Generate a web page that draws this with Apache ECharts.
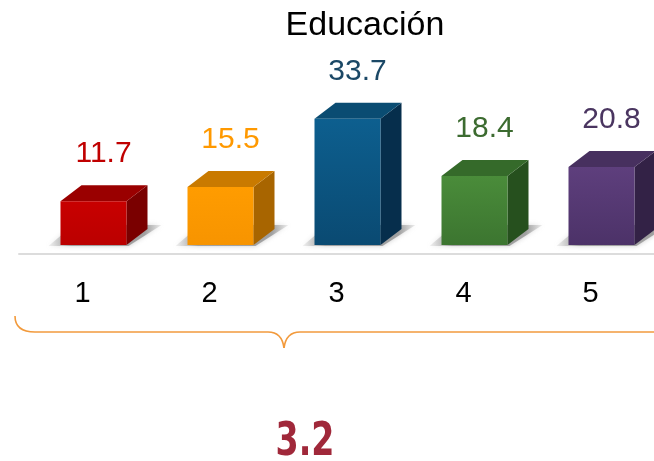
<!DOCTYPE html>
<html>
<head>
<meta charset="utf-8">
<script src="https://cdn.jsdelivr.net/npm/echarts@6/dist/echarts.min.js"></script>
<style>
  html, body { margin: 0; padding: 0; background: #fff; }
  #chart { width: 654px; height: 461px; }
</style>
</head>
<body>
<div id="chart"></div>
<script>
// datos
var titulo = 'Educación';
var categorias = ['1', '2', '3', '4', '5'];
var valores = [11.7, 15.5, 33.7, 18.4, 20.8];
var promedio = '3.2';

// colores de cada barra: frente, tapa, lado, etiqueta
var colores = [
  { frente: ['#c80000', '#bb0000'], tapa: '#9a0000', lado: '#7a0000', texto: '#c00000' },
  { frente: ['#ff9c00', '#f79400'], tapa: '#c97a00', lado: '#a86500', texto: '#ff9900' },
  { frente: ['#0d5f8f', '#0a4a72'], tapa: '#0a4c72', lado: '#062e4c', texto: '#1b4866' },
  { frente: ['#4a8c3a', '#3c7530'], tapa: '#356a2a', lado: '#26501e', texto: '#3c6b30' },
  { frente: ['#5e3f7d', '#4c3268'], tapa: '#47305f', lado: '#332246', texto: '#4a3560' }
];

function grad(x2, y2, stops) {
  return { type: 'linear', x: 0, y: 0, x2: x2, y2: y2, colorStops: stops };
}

var myChart = echarts.init(document.getElementById('chart'));

function renderItem(params, api) {
  var i = params.dataIndex;
  var base = api.coord([api.value(0), 0]);
  var tope = api.coord([api.value(0), api.value(1)]);
  var w = 66, dx = 21, dy = 16, shift = 11;
  var cx = base[0] + shift;
  var x0 = cx - w / 2, x1 = cx + w / 2;
  var yb = base[1], yt = tope[1];
  var c = colores[i];
  return {
    type: 'group',
    children: [
      {
        type: 'polygon',
        shape: { points: [[x0 - 12, yb + 1], [x1 + 2, yb + 1], [x1 + dx + 14, yb - dy - 4], [x0 + dx - 8, yb - dy - 4]] },
        style: {
          fill: grad(1, 0, [
            { offset: 0, color: 'rgba(170,170,170,0.15)' },
            { offset: 0.2, color: 'rgba(140,140,140,0.75)' },
            { offset: 0.85, color: 'rgba(140,140,140,0.75)' },
            { offset: 1, color: 'rgba(170,170,170,0.2)' }
          ]),
          shadowBlur: 5,
          shadowColor: 'rgba(150,150,150,0.6)'
        }
      },
      {
        type: 'polygon',
        shape: { points: [[x1, yt], [x1 + dx, yt - dy], [x1 + dx, yb - dy], [x1, yb]] },
        style: { fill: c.lado }
      },
      {
        type: 'polygon',
        shape: { points: [[x0, yt], [x1, yt], [x1 + dx, yt - dy], [x0 + dx, yt - dy]] },
        style: { fill: c.tapa }
      },
      {
        type: 'rect',
        shape: { x: x0, y: yt, width: w, height: yb - yt },
        style: {
          fill: grad(0, 1, [
            { offset: 0, color: c.frente[0] },
            { offset: 1, color: c.frente[1] }
          ])
        }
      },
      {
        type: 'text',
        x: cx + 10,
        y: yt - 32,
        style: {
          text: String(api.value(1)),
          fill: c.texto,
          font: '30px "Liberation Sans", Arial, sans-serif',
          align: 'center',
          verticalAlign: 'bottom'
        }
      }
    ]
  };
}

// llave naranja
var llave = { stroke: '#f29a3c', lineWidth: 1.6, fill: 'none' };

var option = {
  animation: false,
  title: {
    text: titulo,
    left: 360,
    top: 4,
    textAlign: 'center',
    textStyle: { fontSize: 34, fontWeight: 'normal', color: '#000', fontFamily: '"Liberation Sans", Arial, sans-serif' }
  },
  grid: { left: 19, right: 0, top: 95, bottom: 216 },
  xAxis: {
    type: 'category',
    data: categorias,
    offset: 9,
    axisLine: { onZero: false, lineStyle: { color: '#dcdcdc', width: 2 } },
    axisTick: { show: false },
    axisLabel: {
      margin: 25,
      fontSize: 29,
      color: '#000',
      fontFamily: '"Liberation Sans", Arial, sans-serif'
    }
  },
  yAxis: { type: 'value', min: 0, max: 40, show: false, splitLine: { show: false } },
  series: [{
    type: 'custom',
    renderItem: renderItem,
    clip: false,
    data: valores.map(function (v, i) { return [i, v]; })
  }],
  graphic: [
    { type: 'bezierCurve', shape: { x1: 15, y1: 316, cpx1: 15, cpy1: 332, x2: 35, y2: 332 }, style: llave },
    { type: 'line', shape: { x1: 35, y1: 332, x2: 268, y2: 332 }, style: llave },
    { type: 'bezierCurve', shape: { x1: 268, y1: 332, cpx1: 282, cpy1: 332, x2: 284, y2: 348 }, style: llave },
    { type: 'bezierCurve', shape: { x1: 284, y1: 348, cpx1: 286, cpy1: 332, x2: 300, y2: 332 }, style: llave },
    { type: 'line', shape: { x1: 300, y1: 332, x2: 660, y2: 332 }, style: llave },
    {
      type: 'text',
      x: 305,
      y: 443,
      scaleX: 0.74,
      scaleY: 0.92,
      style: {
        text: promedio,
        fill: '#a0283a',
        font: 'bold 50px "Liberation Sans Narrow", "DejaVu Sans Condensed", sans-serif',
        align: 'center',
        verticalAlign: 'middle'
      }
    }
  ]
};

myChart.setOption(option);
</script>
</body>
</html>
